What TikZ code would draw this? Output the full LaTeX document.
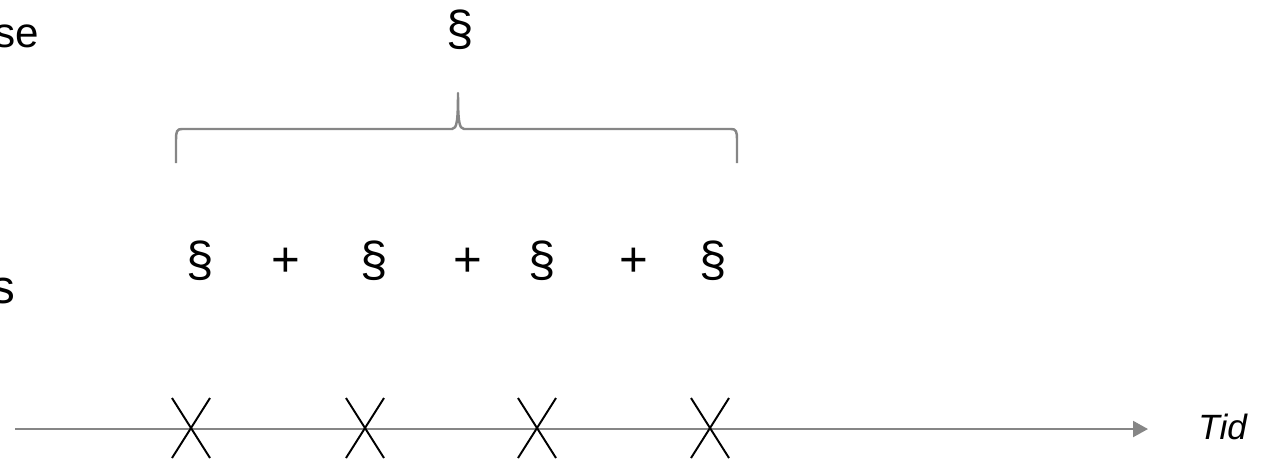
\documentclass[tikz,border=0pt]{standalone}
\usepackage{fontspec}
\setmainfont{Liberation Sans}
\usetikzlibrary{arrows.meta}

\begin{document}
\begin{tikzpicture}[x=0.02cm,y=-0.02cm,
  txt/.style={inner sep=0pt,anchor=base},
  brace/.style={draw=gray!95,line width=1.4pt,line join=round},
  axis/.style={draw=gray!95,line width=1.4pt,-{Triangle[length=8.5pt,width=9pt]}},
  cross/.style={draw=black,line width=1.1pt}]
\useasboundingbox (0,0) rectangle (1266,458);

% left labels
\node[txt,anchor=base east,font=\fontsize{24}{28}\selectfont] (se) at (39,47) {se};
\node[txt,anchor=base east,font=\fontsize{27}{32}\selectfont] (s) at (16,303) {s};

% top symbol and brace
\node[txt,font=\fontsize{28}{32}\selectfont] (top) at (460,45) {\S};
\coordinate (bl) at (176,163);
\coordinate (br) at (737,163);
\coordinate (tip) at (458,93);
\draw[brace] (bl) -- (176,140) .. controls (176,131) and (177,129) .. (182,129)
  -- (452,129) .. controls (457,129) and (458,120) .. (tip)
  .. controls (458,120) and (459,129) .. (464,129)
  -- (731,129) .. controls (736,129) and (737,131) .. (737,140) -- (br);

% row of symbols
\foreach \x/\n in {200/p1,374/p2,542/p3,713/p4}
  \node[txt,font=\fontsize{28}{32}\selectfont] (\n) at (\x,276) {\S};
\foreach \x/\n in {286/a1,468/a2,634/a3}
  \node[txt,font=\fontsize{28}{32}\selectfont] (\n) at (\x,276) {+};

% time axis
\coordinate (start) at (15,429);
\coordinate (stop) at (1148,429);
\draw[axis] (start) -- (stop);
\node[txt,anchor=base west,font=\fontsize{20}{24}\selectfont\itshape] (tid) at (1198,439) {Tid};
\foreach \x/\n in {191/x1,365/x2,537/x3,710/x4}{
  \coordinate (\n) at (\x,428);
  \draw[cross] ([shift={(-19,-30)}]\n) -- ([shift={(19,30)}]\n);
  \draw[cross] ([shift={(19,-30)}]\n) -- ([shift={(-19,30)}]\n);
}
\end{tikzpicture}
\end{document}
